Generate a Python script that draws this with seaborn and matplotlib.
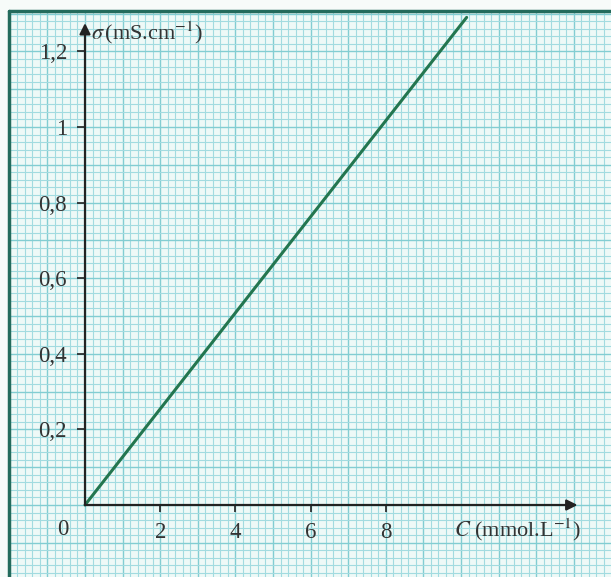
import numpy as np
import pandas as pd
import matplotlib
matplotlib.use("Agg")
import matplotlib.pyplot as plt
from matplotlib.lines import Line2D
import seaborn as sns

# data
conc = [0, 10.15]         # C (mmol.L-1)
sigma = [0, 1.29]         # sigma (mS.cm-1)
x_ticks = [2, 4, 6, 8]
y_ticks = [0.2, 0.4, 0.6, 0.8, 1.0, 1.2]

sns.set_style("white")
plt.rcParams["font.family"] = ["Liberation Serif", "DejaVu Serif"]
plt.rcParams["mathtext.fontset"] = "stix"

W, H = 611, 577
fig = plt.figure(figsize=(W / 100, H / 100), dpi=100)
fig.patch.set_facecolor("#f7fbf9")

# axes fill the page from the frame corner (10, 12) to bottom right
ax = fig.add_axes([10 / W, 0, 1 - 10 / W, 1 - 12 / H])
ax.set_facecolor("#eef9f7")

px_x = 37.6   # pixels per unit of C
px_y = 378.0  # pixels per unit of sigma
ox, oy = 85, 505
ax.set_xlim((10 - ox) / px_x, (W - ox) / px_x)
ax.set_ylim(-(H - oy) / px_y, (oy - 12) / px_y)

# millimetre paper grid
xmin, xmax = ax.get_xlim()
ymin, ymax = ax.get_ylim()
gx = np.arange(np.ceil(xmin / 0.2) * 0.2, xmax, 0.2)
gy = np.arange(np.ceil(ymin / 0.02) * 0.02, ymax, 0.02)
for v in gx:
    major = abs(v - round(v)) < 1e-6
    ax.axvline(v, color="#82cdd2" if major else "#a2dbe0",
               lw=1.0 if major else 0.8, zorder=0)
for v in gy:
    major = abs(v * 10 - round(v * 10)) < 1e-6
    ax.axhline(v, color="#82cdd2" if major else "#a2dbe0",
               lw=1.0 if major else 0.8, zorder=0)

df = pd.DataFrame({"C": conc, "sigma": sigma})
sns.lineplot(data=df, x="C", y="sigma", color="#23764f", lw=2.2, ax=ax, zorder=5)

# axes with arrows through the origin
for s in ax.spines.values():
    s.set_visible(False)
ax.spines["left"].set_position(("data", 0))
ax.spines["bottom"].set_position(("data", 0))
ax.annotate("", xy=(13.1, 0), xytext=(0, 0),
            arrowprops=dict(arrowstyle="-|>", color="#222222", lw=1.6,
                            mutation_scale=16, shrinkA=0, shrinkB=0), zorder=6)
ax.annotate("", xy=(0, 1.275), xytext=(0, 0),
            arrowprops=dict(arrowstyle="-|>", color="#222222", lw=1.6,
                            mutation_scale=16, shrinkA=0, shrinkB=0), zorder=6)

ax.set_xticks(x_ticks)
ax.set_yticks(y_ticks)
ax.set_xticklabels([f"{v:g}".replace(".", ",") for v in x_ticks])
ax.set_yticklabels([f"{v:g}".replace(".", ",") for v in y_ticks])
ax.tick_params(axis="x", bottom=True, direction="out", length=5, width=1.2,
               color="#222222", labelsize=16.5, labelcolor="#333333", pad=7)
ax.tick_params(axis="y", left=True, direction="out", length=6, width=1.2,
               color="#222222", labelsize=16.5, labelcolor="#333333", pad=7)
ax.set_xlabel("")
ax.set_ylabel("")

ax.text(-0.6, -0.066, "0", fontsize=16.5, color="#333333", ha="center", va="center")
ax.text(0.17, 1.25, r"$\sigma\,$(mS.cm$^{-1}$)", fontsize=16, color="#333333",
        ha="left", va="center")
ax.text(13.2, -0.066, r"$C$ (mmol.L$^{-1}$)", fontsize=16, color="#333333",
        ha="right", va="center")

# page frame (top and left edges)
frame = "#236b5c"
fig.add_artist(Line2D([9 / W, 1], [1 - 11 / H] * 2, color=frame, lw=2.5))
fig.add_artist(Line2D([9 / W] * 2, [0, 1 - 11 / H], color=frame, lw=2.5))

fig.savefig("out.png", dpi=100)
